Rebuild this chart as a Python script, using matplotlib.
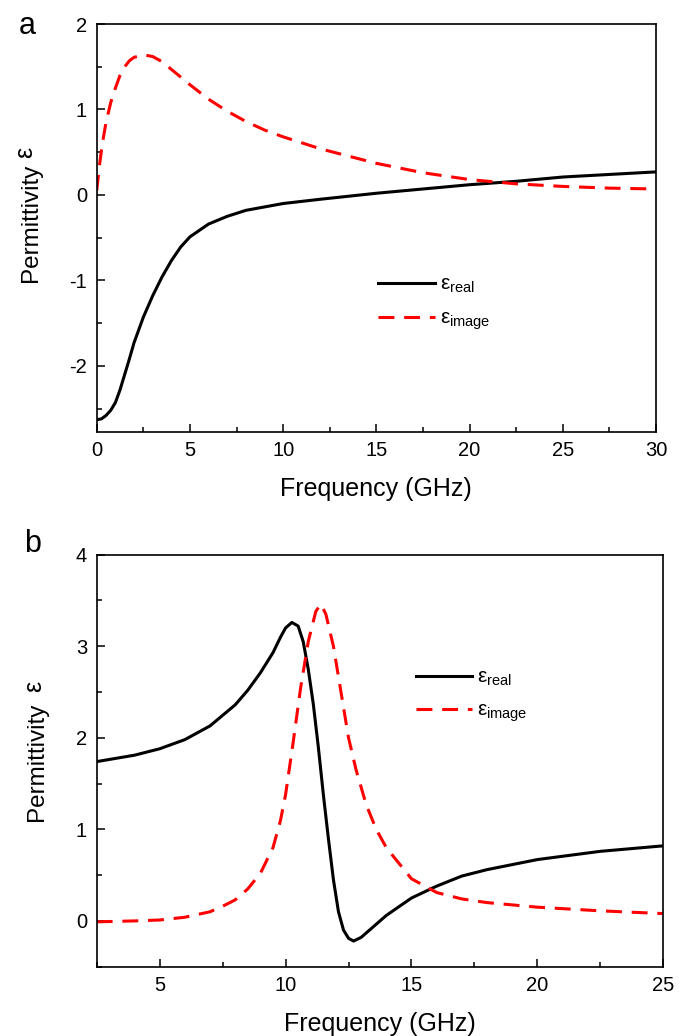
import matplotlib
matplotlib.use("Agg")
import matplotlib.pyplot as plt
from matplotlib.ticker import MultipleLocator

plt.rcParams["font.family"] = ["Liberation Sans", "DejaVu Sans"]
plt.rcParams["mathtext.fontset"] = "custom"
plt.rcParams["mathtext.rm"] = "Liberation Sans"
plt.rcParams["mathtext.it"] = "Liberation Sans"
plt.rcParams["axes.unicode_minus"] = False

# panel a data
freq_a = [0, 0.25, 0.5, 0.75, 1, 1.25, 1.5, 1.75, 2, 2.5, 3, 3.5, 4, 4.5, 5, 6, 7, 8, 9, 10,
          12, 15, 17.5, 20, 22.5, 25, 27.5, 30]
real_a = [-2.63, -2.62, -2.58, -2.52, -2.43, -2.28, -2.1, -1.92, -1.73, -1.43, -1.18, -0.96,
          -0.77, -0.61, -0.49, -0.34, -0.25, -0.18, -0.14, -0.1, -0.05, 0.02, 0.07, 0.12,
          0.16, 0.21, 0.24, 0.27]
freq_a_im = [0, 0.15, 0.3, 0.5, 0.75, 1, 1.25, 1.5, 1.75, 2, 2.5, 3, 3.5, 4, 5, 6, 7, 8, 9,
             10, 12, 15, 17.5, 20, 22.5, 25, 27.5, 30]
imag_a = [0.05, 0.35, 0.6, 0.85, 1.08, 1.25, 1.4, 1.5, 1.57, 1.61, 1.64, 1.62, 1.56, 1.47,
          1.29, 1.12, 0.98, 0.86, 0.76, 0.68, 0.54, 0.37, 0.26, 0.18, 0.13, 0.1, 0.08, 0.07]

# panel b data
freq_b = [2.5, 4, 5, 6, 7, 8, 8.5, 9, 9.5, 9.8, 10, 10.25, 10.5, 10.7, 10.9, 11.1, 11.3,
          11.5, 11.7, 11.9, 12.1, 12.3, 12.5, 12.7, 13, 13.5, 14, 15, 16, 17, 18, 20, 22.5, 25]
real_b = [1.74, 1.81, 1.88, 1.98, 2.13, 2.36, 2.52, 2.71, 2.93, 3.1, 3.2, 3.26, 3.22, 3.05,
          2.75, 2.37, 1.9, 1.38, 0.9, 0.45, 0.1, -0.1, -0.19, -0.22, -0.18, -0.06, 0.06,
          0.25, 0.38, 0.49, 0.56, 0.67, 0.76, 0.82]
freq_b_im = [2.5, 4, 5, 6, 7, 7.5, 8, 8.5, 9, 9.5, 9.8, 10, 10.3, 10.6, 10.9, 11.2, 11.4,
             11.6, 11.9, 12.2, 12.5, 12.8, 13.2, 13.6, 14, 15, 16, 17, 18, 20, 22.5, 25]
imag_b = [-0.01, 0.0, 0.01, 0.04, 0.1, 0.16, 0.23, 0.35, 0.52, 0.8, 1.1, 1.38, 1.95, 2.55,
          3.05, 3.38, 3.46, 3.35, 3.0, 2.5, 2.0, 1.65, 1.27, 1.0, 0.8, 0.46, 0.31, 0.24,
          0.2, 0.15, 0.11, 0.08]

labels = [r"$\varepsilon_{\mathregular{real}}$", r"$\varepsilon_{\mathregular{image}}$"]
dash = (0, (5.2, 3.2))

fig = plt.figure(figsize=(6.86, 10.36), dpi=100)
ax_a = fig.add_axes([0.141, 0.5833, 0.8153, 0.3935])
ax_b = fig.add_axes([0.141, 0.0669, 0.8259, 0.3977])


def style(ax, lab_xy, eps_xy):
    ax.xaxis.set_major_locator(MultipleLocator(5))
    ax.xaxis.set_minor_locator(MultipleLocator(2.5))
    ax.yaxis.set_major_locator(MultipleLocator(1))
    ax.yaxis.set_minor_locator(MultipleLocator(0.5))
    ax.tick_params(which="both", direction="in", top=False, right=False,
                   labelsize=14.5, width=1.1, pad=7)
    ax.tick_params(which="major", length=6)
    ax.tick_params(which="minor", length=3.5)
    for s in ax.spines.values():
        s.set_linewidth(1.2)
    ax.set_xlabel("Frequency (GHz)", fontsize=18, labelpad=12)
    ax.set_ylabel("Permittivity", fontsize=17.5)
    ax.yaxis.set_label_coords(*lab_xy)
    # epsilon after the axis title, set a little higher
    ax.text(eps_xy[0], eps_xy[1], "ε", transform=ax.transAxes, rotation=90,
            fontsize=18, ha="center", va="center")


ax_a.plot(freq_a, real_a, color="black", lw=2.2, label=labels[0])
ax_a.plot(freq_a_im, imag_a, color="#ff0000", lw=2.2, ls=dash, label=labels[1])
ax_a.set_xlim(0, 30)
ax_a.set_ylim(-2.77, 2)
style(ax_a, (-0.098, 0.512), (-0.128, 0.685))
ax_a.legend(loc="upper left", bbox_to_anchor=(0.47, 0.43), frameon=False, fontsize=15,
            handlelength=2.7, handletextpad=0.25, labelspacing=0.65)
fig.text(0.027, 0.975, "a", fontsize=22, va="center")

ax_b.plot(freq_b, real_b, color="black", lw=2.2, label=labels[0])
ax_b.plot(freq_b_im, imag_b, color="#ff0000", lw=2.2, ls=dash, label=labels[1])
ax_b.set_xlim(2.5, 25)
ax_b.set_ylim(-0.5, 4)
style(ax_b, (-0.086, 0.497), (-0.11, 0.68))
ax_b.legend(loc="upper left", bbox_to_anchor=(0.53, 0.77), frameon=False, fontsize=15,
            handlelength=2.7, handletextpad=0.25, labelspacing=0.6)
fig.text(0.035, 0.475, "b", fontsize=22, va="center")

fig.savefig("out.png", dpi=100)
